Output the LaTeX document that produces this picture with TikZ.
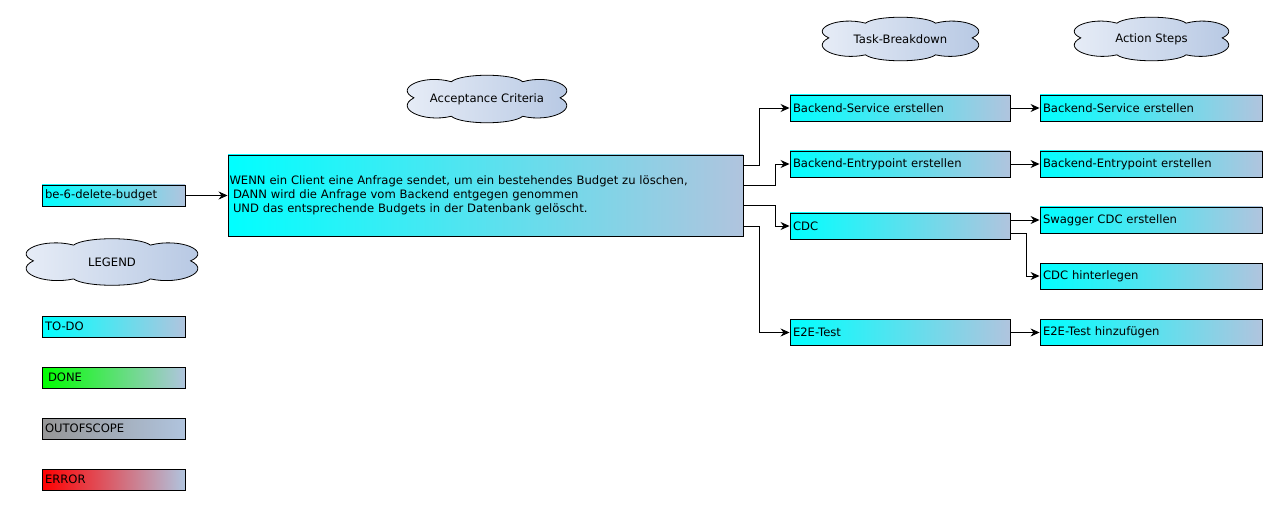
\documentclass[tikz,border=0pt]{standalone}
\usepackage{fontspec}
\setmainfont{DejaVu Sans}
\usetikzlibrary{arrows.meta}
\definecolor{cy}{RGB}{0,255,255}
\definecolor{lsb}{RGB}{176,196,222}
\definecolor{cl1}{RGB}{234,239,248}
\definecolor{cl2}{RGB}{180,198,226}
\definecolor{gr}{RGB}{0,255,0}
\definecolor{gy}{RGB}{150,150,150}
\definecolor{rd}{RGB}{255,0,0}
% cloud: centre x, centre y, width, height, name, text
\newcommand\mycloud[6]{%
  \begin{scope}[shift={(#1,#2)},x=#3pt/1.86,y=#4pt/2]
    \draw[cloudst] (-0.86,0.05)
      .. controls (-1.1,0.45) and (-0.75,1.05) .. (-0.42,0.72)
      .. controls (-0.3,1.08) and (0.3,1.08) .. (0.42,0.72)
      .. controls (0.75,1.05) and (1.1,0.45) .. (0.86,0.05)
      .. controls (1.1,-0.4) and (0.75,-1.0) .. (0.42,-0.72)
      .. controls (0.3,-1.08) and (-0.3,-1.08) .. (-0.42,-0.72)
      .. controls (-0.75,-1.0) and (-1.1,-0.4) .. (-0.86,0.05) -- cycle;
    \node[inner sep=0pt] (#5) at (0,0) {#6};
  \end{scope}}
\begin{document}
\begin{tikzpicture}[x=1pt,y=-1pt,
  font=\fontsize{11.6}{14}\selectfont,
  box/.style={draw=black,line width=0.9pt,left color=cy,right color=lsb,
    inner xsep=3pt,inner ysep=0pt,align=left},
  tbox/.style={box,text width=214pt,minimum height=26pt},
  abox/.style={box,text width=216pt,minimum height=26pt},
  lbox/.style={box,text width=137pt,minimum height=21pt},
  cloudst/.style={draw=black,line width=0.8pt,left color=cl1,right color=cl2},
  arr/.style={line width=0.9pt,-{Stealth[length=9pt,width=8pt,inset=3pt]}}]
\useasboundingbox (0,0) rectangle (1277,505);

% clouds
\mycloud{487}{99}{158}{48}{cacc}{Acceptance Criteria}
\mycloud{112}{262}{170}{47}{cleg}{LEGEND}
\mycloud{900.5}{39}{155}{44}{ctask}{Task-Breakdown}
\mycloud{1151.5}{39}{153}{44}{cact}{Action Steps}

% story
\node[lbox] (story) at (113.5,195.5) {be-6-delete-budget};

% main
\node[box,inner xsep=1.5pt,text width=512pt,minimum height=81pt] (main) at (485.5,195.5)
  {WENN ein Client eine Anfrage sendet, um ein bestehendes Budget zu löschen,\\
   \hspace*{3.5pt}DANN wird die Anfrage vom Backend entgegen genommen\\
   \hspace*{3.5pt}UND das entsprechende Budgets in der Datenbank gelöscht.};

% tasks
\node[tbox] (t1) at (900,108) {Backend-Service erstellen};
\node[tbox] (t2) at (900,164) {Backend-Entrypoint erstellen};
\node[tbox] (t3) at (900,226) {CDC};
\node[tbox] (t4) at (900,332.5) {E2E-Test};

% actions
\node[abox] (a1) at (1151,108) {Backend-Service erstellen};
\node[abox] (a2) at (1151,164) {Backend-Entrypoint erstellen};
\node[abox] (a3) at (1151,220) {Swagger CDC erstellen};
\node[abox] (a4) at (1151,276) {CDC hinterlegen};
\node[abox] (a5) at (1151,332.5) {E2E-Test hinzufügen};

% legend
\node[lbox] (lg1) at (113.5,326.5) {TO-DO};
\node[lbox,left color=gr] (lg2) at (113.5,377.5) {\hspace*{3pt}DONE};
\node[lbox,left color=gy] (lg3) at (113.5,428.5) {OUTOFSCOPE};
\node[lbox,left color=rd] (lg4) at (113.5,479.5) {ERROR};

% connectors
\draw[arr] (story.east) -- (main.west);
\draw[arr] ([yshift=30.5pt]main.east) -- ++(16,0) |- (t1.west);
\draw[arr] ([yshift=10.5pt]main.east) -- ++(32,0) |- (t2.west);
\draw[arr] ([yshift=-9.5pt]main.east) -- ++(32,0) |- (t3.west);
\draw[arr] ([yshift=-30.5pt]main.east) -- ++(16,0) |- (t4.west);

\draw[arr] (t1.east) -- (a1.west);
\draw[arr] (t2.east) -- (a2.west);
\draw[arr] (t3.east |- a3.west) -- (a3.west);
\draw[arr] ([yshift=-7pt]t3.east) -- ++(16,0) |- (a4.west);
\draw[arr] (t4.east) -- (a5.west);
\end{tikzpicture}
\end{document}
